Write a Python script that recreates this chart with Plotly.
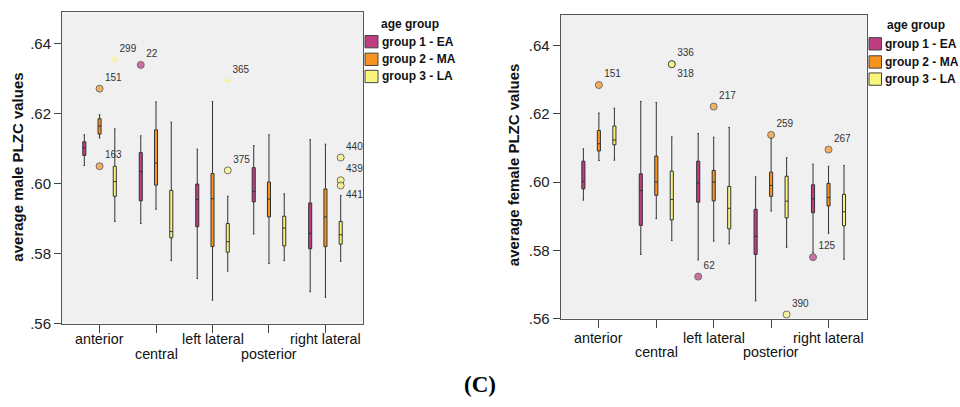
import plotly.graph_objects as go

W, H = 960, 407

categories = ["anterior", "central", "left lateral", "posterior", "right lateral"]
group_names = ["group 1 - EA", "group 2 - MA", "group 3 - LA"]
group_colors = ["#BE3C80", "#F7931E", "#F8F47C"]

# ---- male PLZC (left panel): lower whisker, q1, median, q3, upper whisker
male_g1_low = [0.6052, 0.5886, 0.5729, 0.5856, 0.5691]
male_g1_q1 = [0.6081, 0.5951, 0.5877, 0.5948, 0.5814]
male_g1_med = [0.6103, 0.6035, 0.5955, 0.5978, 0.5858]
male_g1_q3 = [0.6120, 0.6089, 0.5999, 0.6046, 0.5945]
male_g1_high = [0.6140, 0.6137, 0.6099, 0.6109, 0.6126]

male_g2_low = [0.6131, 0.5927, 0.5667, 0.5772, 0.5675]
male_g2_q1 = [0.6142, 0.5996, 0.5820, 0.5905, 0.5820]
male_g2_med = [0.6165, 0.6059, 0.5957, 0.5956, 0.5905]
male_g2_q3 = [0.6186, 0.6154, 0.6029, 0.6005, 0.5985]
male_g2_high = [0.6197, 0.6234, 0.6235, 0.6140, 0.6113]

male_g3_low = [0.5892, 0.5780, 0.5750, 0.5780, 0.5778]
male_g3_q1 = [0.5964, 0.5845, 0.5804, 0.5822, 0.5827]
male_g3_med = [0.6006, 0.5863, 0.5834, 0.5873, 0.5854]
male_g3_q3 = [0.6050, 0.5981, 0.5886, 0.5907, 0.5892]
male_g3_high = [0.6157, 0.6176, 0.5964, 0.5971, 0.5966]

# male outliers: category, value, case label, kind ("o" circle, "*" extreme)
male_g1_out_cat = ["central"]
male_g1_out_val = [0.6340]
male_g1_out_lab = ["22"]
male_g1_out_kind = ["o"]

male_g2_out_cat = ["anterior", "anterior"]
male_g2_out_val = [0.6272, 0.6050]
male_g2_out_lab = ["151", "163"]
male_g2_out_kind = ["o", "o"]

male_g3_out_cat = ["anterior", "left lateral", "left lateral", "right lateral", "right lateral", "right lateral"]
male_g3_out_val = [0.6356, 0.6295, 0.6038, 0.6075, 0.6010, 0.5995]
male_g3_out_lab = ["299", "365", "375", "440", "439", "441"]
male_g3_out_kind = ["*", "*", "o", "o", "o", "o"]

# ---- female PLZC (right panel)
fem_g1_low = [0.5947, 0.5788, 0.5772, 0.5652, 0.5793]
fem_g1_q1 = [0.5980, 0.5873, 0.5941, 0.5788, 0.5910]
fem_g1_med = [0.6002, 0.5975, 0.5997, 0.5841, 0.5951]
fem_g1_q3 = [0.6061, 0.6024, 0.6061, 0.5920, 0.5992]
fem_g1_high = [0.6097, 0.6236, 0.6142, 0.6015, 0.6052]

fem_g2_low = [0.6063, 0.5893, 0.5827, 0.5915, 0.5850]
fem_g2_q1 = [0.6091, 0.5961, 0.5945, 0.5958, 0.5930]
fem_g2_med = [0.6112, 0.6000, 0.6000, 0.5990, 0.5955]
fem_g2_q3 = [0.6151, 0.6076, 0.6034, 0.6029, 0.5996]
fem_g2_high = [0.6202, 0.6233, 0.6131, 0.6128, 0.6046]

fem_g3_low = [0.6064, 0.5829, 0.5819, 0.5809, 0.5774]
fem_g3_q1 = [0.6109, 0.5889, 0.5863, 0.5895, 0.5872]
fem_g3_med = [0.6123, 0.5949, 0.5923, 0.5944, 0.5913]
fem_g3_q3 = [0.6164, 0.6032, 0.5987, 0.6017, 0.5964]
fem_g3_high = [0.6216, 0.6132, 0.6160, 0.6071, 0.6048]

fem_g1_out_cat = ["left lateral", "right lateral"]
fem_g1_out_val = [0.5723, 0.5780]
fem_g1_out_lab = ["62", "125"]
fem_g1_out_kind = ["o", "o"]

fem_g2_out_cat = ["anterior", "left lateral", "posterior", "right lateral"]
fem_g2_out_val = [0.6284, 0.6221, 0.6138, 0.6095]
fem_g2_out_lab = ["151", "217", "259", "267"]
fem_g2_out_kind = ["o", "o", "o", "o"]

fem_g3_out_cat = ["central", "central", "posterior"]
fem_g3_out_val = [0.6345, 0.6345, 0.5612]
fem_g3_out_lab = ["336", "318", "390"]
fem_g3_out_kind = ["o", "o", "o"]

y_tick_vals = [0.56, 0.58, 0.60, 0.62, 0.64]
y_tick_text = [".56", ".58", ".60", ".62", ".64"]
# labels placed below the first label row
second_row = ["central", "posterior"]
labels_below = ["318", "441"]

panels = [
    dict(xa="x", ya="y",
         boxes=[(male_g1_low, male_g1_q1, male_g1_med, male_g1_q3, male_g1_high),
                (male_g2_low, male_g2_q1, male_g2_med, male_g2_q3, male_g2_high),
                (male_g3_low, male_g3_q1, male_g3_med, male_g3_q3, male_g3_high)],
         outs=[(male_g1_out_cat, male_g1_out_val, male_g1_out_lab, male_g1_out_kind),
               (male_g2_out_cat, male_g2_out_val, male_g2_out_lab, male_g2_out_kind),
               (male_g3_out_cat, male_g3_out_val, male_g3_out_lab, male_g3_out_kind)]),
    dict(xa="x2", ya="y2",
         boxes=[(fem_g1_low, fem_g1_q1, fem_g1_med, fem_g1_q3, fem_g1_high),
                (fem_g2_low, fem_g2_q1, fem_g2_med, fem_g2_q3, fem_g2_high),
                (fem_g3_low, fem_g3_q1, fem_g3_med, fem_g3_q3, fem_g3_high)],
         outs=[(fem_g1_out_cat, fem_g1_out_val, fem_g1_out_lab, fem_g1_out_kind),
               (fem_g2_out_cat, fem_g2_out_val, fem_g2_out_lab, fem_g2_out_kind),
               (fem_g3_out_cat, fem_g3_out_val, fem_g3_out_lab, fem_g3_out_kind)]),
]

fig = go.Figure()
for p in panels:
    for gi, (lo, q1, med, q3, hi) in enumerate(p["boxes"]):
        fig.add_trace(go.Box(
            x=categories, lowerfence=lo, q1=q1, median=med, q3=q3, upperfence=hi,
            xaxis=p["xa"], yaxis=p["ya"], name=group_names[gi],
            offsetgroup=str(gi), boxpoints=False, showlegend=False,
            fillcolor=group_colors[gi], line=dict(color="#333333", width=1),
            whiskerwidth=0.5,
        ))
    for gi, (cat, val, lab, kind) in enumerate(p["outs"]):
        symbols = ["asterisk-open" if k == "*" else "circle" for k in kind]
        lcolors = ["#F4F060" if k == "*" else "#3a3a3a" for k in kind]
        sizes = [6 if k == "*" else 7 for k in kind]
        tpos = ["bottom right" if l in labels_below else "top right" for l in lab]
        fig.add_trace(go.Scatter(
            x=cat, y=val, text=lab, mode="markers+text", textposition=tpos,
            xaxis=p["xa"], yaxis=p["ya"], offsetgroup=str(gi), showlegend=False,
            marker=dict(symbol=symbols, size=sizes, color=group_colors[gi],
                        line=dict(color=lcolors, width=1)),
            textfont=dict(family="Liberation Sans, Arial", size=10, color="#333333"),
            cliponaxis=False,
        ))

axis_common_x = dict(type="category", categoryorder="array", categoryarray=categories,
                     range=[-0.665, 4.665], showticklabels=False, ticks="outside",
                     ticklen=8, tickcolor="#444444", showline=True, linecolor="#555555",
                     mirror=True, showgrid=False, zeroline=False, fixedrange=True)
axis_common_y = dict(range=[0.56, 0.649], tickvals=y_tick_vals, ticktext=y_tick_text,
                     ticks="outside", ticklen=7, tickcolor="#444444", showline=True,
                     linecolor="#555555", mirror=True, showgrid=False, zeroline=False,
                     tickfont=dict(family="Liberation Sans, Arial", size=15, color="#222222"))

fig.update_layout(
    width=W, height=H, margin=dict(l=0, r=0, t=0, b=0),
    paper_bgcolor="white", plot_bgcolor="#F0F0F0",
    boxmode="group", boxgap=0.19, boxgroupgap=0.8,
    scattermode="group", scattergap=0.19,
    showlegend=False, hovermode=False,
    xaxis=dict(domain=[62 / W, 363 / W], anchor="y", **axis_common_x),
    yaxis=dict(domain=[1 - 330 / H, 1 - 12.7 / H], anchor="x", **axis_common_y),
    xaxis2=dict(domain=[560.7 / W, 866.7 / W], anchor="y2", **axis_common_x),
    yaxis2=dict(domain=[1 - 325 / H, 1 - 15 / H], anchor="x2", **axis_common_y),
)

annotations = []
shapes = []
lab_font = dict(family="Liberation Sans, Arial", size=14.3, color="#111111")
# category labels (staggered in two rows)
for xa, row1, row2 in [("x", 345.7, 361.0), ("x2", 344.3, 359.3)]:
    for c in categories:
        yy = row2 if c in second_row else row1
        annotations.append(dict(x=c, xref=xa, y=1 - yy / H, yref="paper", text=c,
                                showarrow=False, xanchor="center", yanchor="middle",
                                font=lab_font))
# axis titles
annotations.append(dict(x=18 / W, y=1 - 171 / H, xref="paper", yref="paper",
                        text="<b>average male PLZC values</b>", textangle=-90,
                        showarrow=False, xanchor="center", yanchor="middle",
                        font=dict(family="Liberation Sans, Arial", size=15, color="#111111")))
annotations.append(dict(x=513 / W, y=1 - 168.5 / H, xref="paper", yref="paper",
                        text="<b>average female PLZC values</b>", textangle=-90,
                        showarrow=False, xanchor="center", yanchor="middle",
                        font=dict(family="Liberation Sans, Arial", size=15, color="#111111")))
# legends
leg_font = dict(family="Liberation Sans, Arial", size=12, color="#111111")
for (tx, ty, sx0, sx1, ys, txt_x) in [(379, 24.3, 365, 378, [42.5, 60.5, 78.0], 380),
                                      (885, 25.5, 869, 881.5, [44.7, 63.2, 80.7], 883)]:
    annotations.append(dict(x=tx / W, y=1 - ty / H, xref="paper", yref="paper",
                            text="<b>age group</b>", showarrow=False, xanchor="left",
                            yanchor="middle", font=leg_font))
    for gi, yc in enumerate(ys):
        shapes.append(dict(type="rect", xref="paper", yref="paper",
                           x0=sx0 / W, x1=sx1 / W, y0=1 - (yc + 6.3) / H, y1=1 - (yc - 6.3) / H,
                           fillcolor=group_colors[gi], line=dict(color="#444444", width=1)))
        annotations.append(dict(x=txt_x / W, y=1 - yc / H, xref="paper", yref="paper",
                                text="<b>" + group_names[gi] + "</b>", showarrow=False,
                                xanchor="left", yanchor="middle", font=leg_font))
# panel label
annotations.append(dict(x=0.5, y=1 - 392 / H, xref="paper", yref="paper", text="<b>(C)</b>",
                        showarrow=False, xanchor="center", yanchor="middle",
                        font=dict(family="Liberation Serif, Times New Roman", size=23, color="#000000")))

fig.update_layout(annotations=annotations, shapes=shapes)
fig.write_html("out.html", config={"displayModeBar": False},
               post_script="document.body.style.margin='0';document.body.style.overflow='hidden';")
